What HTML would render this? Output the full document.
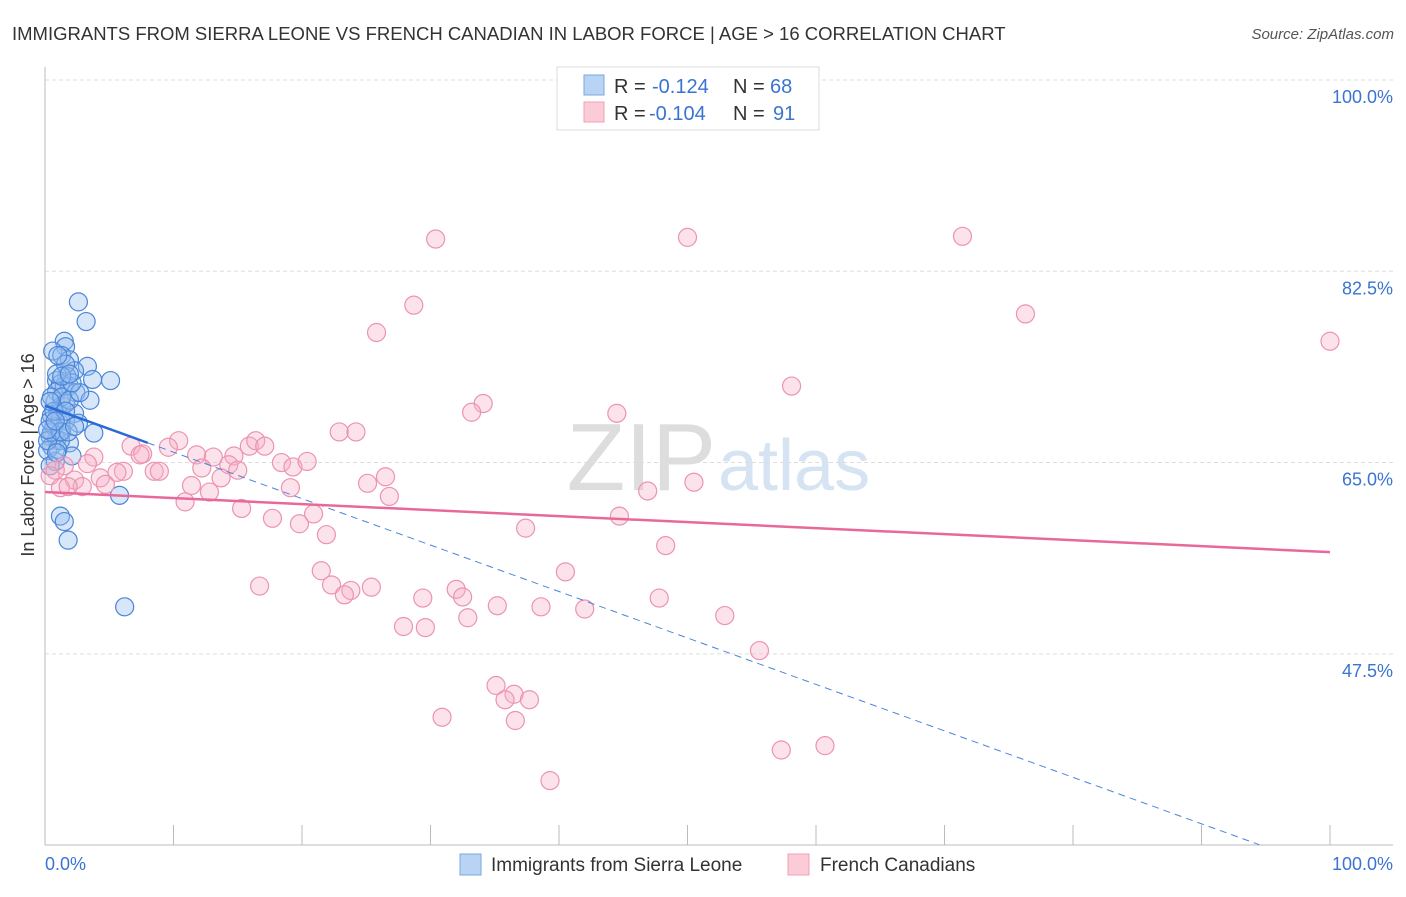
<!DOCTYPE html>
<html><head><meta charset="utf-8"><style>
body{margin:0;background:#fff;font-family:"Liberation Sans",sans-serif}
svg text{font-family:"Liberation Sans",sans-serif}
</style></head><body>
<svg id="chart" width="1406" height="892" xmlns="http://www.w3.org/2000/svg">
<text x="12" y="40" font-size="18.5" fill="#333">IMMIGRANTS FROM SIERRA LEONE VS FRENCH CANADIAN IN LABOR FORCE | AGE &gt; 16 CORRELATION CHART</text>
<text x="1394" y="39" font-size="15" fill="#555" font-style="italic" text-anchor="end">Source: ZipAtlas.com</text>
<text x="716" y="490" font-size="96" fill="#ddd" text-anchor="end" font-family="Liberation Serif">ZIP</text>
<text x="718" y="490" font-size="72" fill="#d5e3f3">atlas</text>
<g id="grid"></g>
<g id="axes"></g>
<g id="marks"></g>
<text transform="translate(34,455) rotate(-90)" font-size="18" fill="#333" text-anchor="middle">In Labor Force | Age &gt; 16</text>
<g>
<rect x="557" y="67" width="262" height="63" fill="#fff" stroke="#ddd"/>
<rect x="584" y="75" width="20" height="20" fill="#b9d3f5" stroke="#7aa7e0"/>
<rect x="584" y="102" width="20" height="20" fill="#fbcbd8" stroke="#f0a0b8"/>
<text x="614" y="93" font-size="20" fill="#333">R =</text>
<text x="652" y="93" font-size="20" fill="#3a74d0">-0.124</text>
<text x="733" y="93" font-size="20" fill="#333">N =</text>
<text x="770" y="93" font-size="20" fill="#3a74d0">68</text>
<text x="614" y="120" font-size="20" fill="#333">R =</text>
<text x="649" y="120" font-size="20" fill="#3a74d0">-0.104</text>
<text x="733" y="120" font-size="20" fill="#333">N =</text>
<text x="773" y="120" font-size="20" fill="#3a74d0">91</text>
</g>
<g>
<rect x="460" y="854" width="21" height="21" fill="#b9d3f5" stroke="#7aa7e0"/>
<text x="491" y="871" font-size="19" fill="#333">Immigrants from Sierra Leone</text>
<rect x="788" y="854" width="21" height="21" fill="#fbcbd8" stroke="#f0a0b8"/>
<text x="820" y="871" font-size="19" fill="#333">French Canadians</text>
</g>
</svg>
<script>
const yTicks=[100,82.5,65,47.5];
const yTickLabels=["100.0%","82.5%","65.0%","47.5%"];
const xTickLabels=["0.0%","100.0%"];
const blueX=[2.6,3.2,1.5,1.6,0.6,1.3,1.9,3.3,2.3,1.7,3.7,5.1,0.9,1.2,1.5,1.9,0.9,2.4,3.5,0.8,1.3,1.0,2.3,0.5,1.2,1.6,2.6,0.7,3.8,1.3,0.4,0.9,1.9,0.5,1.2,0.2,2.1,0.8,0.4,5.8,1.2,1.5,1.8,6.2,0.5,0.9,1.6,0.5,1.0,0.4,0.2,1.3,1.9,2.7,1.6,2.1,1.0,0.7,1.2,1.6,1.8,2.3,0.9,0.4,1.3,1.9,0.2,0.8];
const blueY=[79.7,77.9,76.1,75.6,75.2,74.8,74.4,73.8,73.4,72.9,72.6,72.5,72.5,72.2,72.0,72.0,71.5,71.4,70.7,70.6,70.2,69.7,69.5,69.3,69.0,68.8,68.6,68.3,67.7,67.8,67.4,67.1,66.8,66.5,67.0,66.1,65.6,65.1,64.7,62.0,60.1,59.6,57.9,51.8,71.0,73.1,70.4,67.8,66.2,68.8,67.0,71.0,70.7,71.4,74.0,72.3,74.8,69.7,67.8,69.7,67.8,68.3,65.9,70.6,72.9,73.1,68.0,68.8];
const pinkX=[30.4,50.0,71.4,28.7,76.3,25.8,100,58.1,34.1,33.2,44.5,22.9,24.2,10.4,6.7,7.6,9.6,11.8,13.1,14.7,15.9,16.4,17.1,14.3,12.2,18.4,19.3,20.4,8.5,8.9,6.1,5.6,3.8,3.3,4.3,4.7,1.5,0.8,0.4,2.3,1.2,2.9,1.8,11.4,13.7,12.8,10.9,19.1,25.1,26.5,26.8,15.3,17.7,19.8,20.9,21.9,37.4,44.7,46.9,50.5,48.3,40.5,21.5,22.3,23.8,23.3,25.4,16.7,32.0,32.5,29.4,35.2,38.6,42.0,47.8,52.9,32.9,27.9,29.6,55.6,35.1,36.5,35.8,37.7,30.9,36.6,57.3,60.7,39.3,7.4,15.0];
const pinkY=[85.45,85.6,85.7,79.4,78.6,76.9,76.1,72.0,70.4,69.6,69.5,67.8,67.8,67.0,66.5,65.8,66.4,65.7,65.5,65.6,66.5,67.0,66.5,64.8,64.5,65.0,64.6,65.1,64.2,64.2,64.2,64.1,65.5,64.9,63.6,63.0,64.7,64.3,63.8,63.4,62.7,62.8,62.8,62.9,63.6,62.3,61.4,62.7,63.1,63.7,61.9,60.8,59.9,59.4,60.3,58.4,59.0,60.1,62.4,63.2,57.4,55.0,55.1,53.8,53.3,52.9,53.6,53.7,53.4,52.7,52.6,51.9,51.8,51.6,52.6,51.0,50.8,50.0,49.9,47.8,44.6,43.8,43.3,43.3,41.7,41.4,38.7,39.1,35.9,65.7,64.3];
const blueTrend=[70.2,27.7];
const pinkTrend=[62.3,56.8];
const NS="http://www.w3.org/2000/svg";
const X0=45,X1=1330,YT=80,PPU=10.93,YB=845;
const xs=v=>X0+(X1-X0)*v/100;
const ys=v=>YT+(100-v)*PPU;
function mk(tag,attrs,parent){const e=document.createElementNS(NS,tag);for(const k in attrs)e.setAttribute(k,attrs[k]);parent.appendChild(e);return e;}
const grid=document.getElementById('grid'),axes=document.getElementById('axes'),marks=document.getElementById('marks');
yTicks.forEach((t,i)=>{
 const l=mk('line',{x1:X0,x2:1393,y1:ys(t),y2:ys(t),stroke:'#ddd','stroke-dasharray':'4,3'},grid);
 
 
 const tx=mk('text',{x:1393,y:ys(t)+23,'font-size':18,fill:'#3a74d0','text-anchor':'end'},axes);
 tx.textContent=yTickLabels[i];
 
 
});
const ax=mk('line',{x1:X0,x2:1393,y1:YB,y2:YB,stroke:'#bbb'},axes);


const ay=mk('line',{x1:X0,x2:X0,y1:67,y2:YB,stroke:'#bbb'},axes);


for(let i=1;i<=10;i++){
 const t=mk('line',{x1:xs(i*10),x2:xs(i*10),y1:825,y2:YB,stroke:'#bbb'},axes);
 
 
}
[[0,'start',45],[100,'end',1393]].forEach((d,i)=>{
 const t=mk('text',{x:d[2],y:870,'font-size':18,fill:'#3a74d0','text-anchor':d[1]},axes);
 t.textContent=xTickLabels[i];
 
 
});
blueX.forEach((x,i)=>{
 const c=mk('circle',{cx:xs(x),cy:ys(blueY[i]),r:9,fill:'rgba(150,190,240,0.38)',stroke:'#4a86d8','stroke-width':1.2},marks);
 
 
});
pinkX.forEach((x,i)=>{
 const c=mk('circle',{cx:xs(x),cy:ys(pinkY[i]),r:9,fill:'rgba(246,175,198,0.35)',stroke:'#ec93b0','stroke-width':1.2},marks);
 
 
});
const bAt=v=>blueTrend[0]+(blueTrend[1]-blueTrend[0])*v/100;
const bd=mk('line',{x1:xs(8),y1:ys(bAt(8)),x2:xs(94.5),y2:ys(bAt(94.5)),stroke:'#4a86d8','stroke-width':1,'stroke-dasharray':'7,5'},marks);


const bs=mk('line',{x1:xs(0),y1:ys(bAt(0)),x2:xs(8),y2:ys(bAt(8)),stroke:'#2a6ad6','stroke-width':2.5},marks);


const pl=mk('line',{x1:xs(0),y1:ys(pinkTrend[0]),x2:xs(100),y2:ys(pinkTrend[1]),stroke:'#e8689a','stroke-width':2.5},marks);


</script>
</body></html>
